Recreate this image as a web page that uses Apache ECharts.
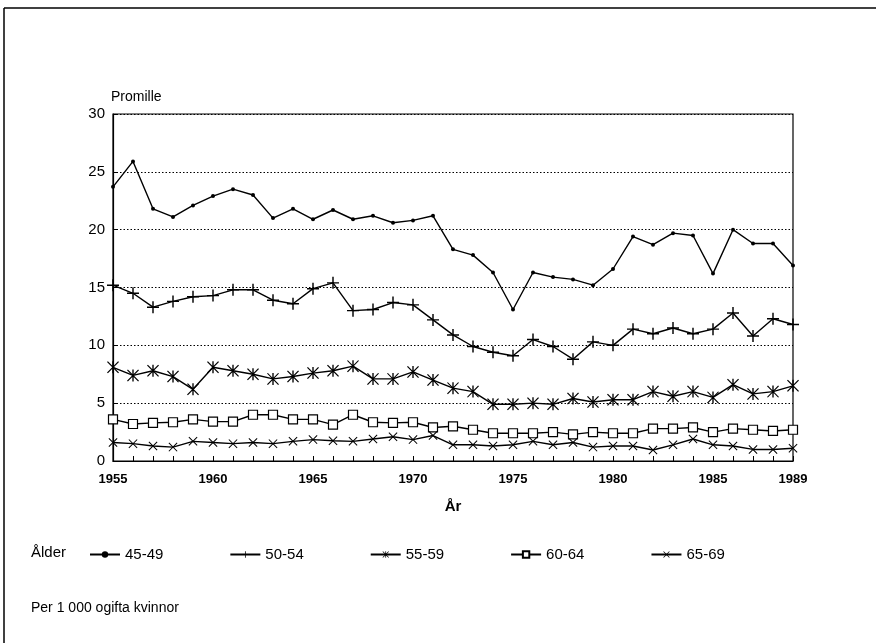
<!DOCTYPE html>
<html>
<head>
<meta charset="utf-8">
<script src="https://cdn.jsdelivr.net/npm/echarts@6/dist/echarts.min.js"></script>
<style>
  html, body { margin: 0; padding: 0; background: #fff; }
  #chart { width: 876px; height: 643px; }
</style>
</head>
<body>
<div id="chart"></div>
<script>
var years = [];
for (var y = 1955; y <= 1989; y++) years.push(y);
var yearLabels = [1955, 1960, 1965, 1970, 1975, 1980, 1985, 1989];
var ageGroups = ['45-49', '50-54', '55-59', '60-64', '65-69'];

// promille per 1 000 ogifta kvinnor, 1955-1989
var age4549 = [23.7, 25.9, 21.8, 21.1, 22.1, 22.9, 23.5, 23.0, 21.0, 21.8, 20.9, 21.7,
               20.9, 21.2, 20.6, 20.8, 21.2, 18.3, 17.8, 16.3, 13.1, 16.3, 15.9, 15.7,
               15.2, 16.6, 19.4, 18.7, 19.7, 19.5, 16.2, 20.0, 18.8, 18.8, 16.9];
var age5054 = [15.2, 14.5, 13.3, 13.8, 14.2, 14.3, 14.8, 14.8, 13.9, 13.6, 14.9, 15.4,
               13.0, 13.1, 13.7, 13.5, 12.2, 10.9, 9.9, 9.4, 9.1, 10.5, 9.9, 8.8,
               10.3, 10.0, 11.4, 11.0, 11.5, 11.0, 11.4, 12.8, 10.8, 12.3, 11.8];
var age5559 = [8.1, 7.4, 7.8, 7.3, 6.2, 8.1, 7.8, 7.5, 7.1, 7.3, 7.6, 7.8,
               8.2, 7.1, 7.1, 7.7, 7.0, 6.3, 6.0, 4.9, 4.9, 5.0, 4.9, 5.4,
               5.1, 5.3, 5.3, 6.0, 5.6, 6.0, 5.5, 6.6, 5.8, 6.0, 6.5];
var age6064 = [3.6, 3.2, 3.3, 3.35, 3.6, 3.4, 3.4, 4.0, 4.0, 3.6, 3.6, 3.15,
               4.0, 3.35, 3.3, 3.35, 2.9, 3.0, 2.7, 2.4, 2.4, 2.4, 2.5, 2.3,
               2.5, 2.4, 2.4, 2.8, 2.8, 2.9, 2.5, 2.8, 2.7, 2.6, 2.7];
var age6569 = [1.6, 1.5, 1.3, 1.2, 1.7, 1.6, 1.5, 1.6, 1.5, 1.7, 1.85, 1.75,
               1.7, 1.9, 2.1, 1.85, 2.2, 1.4, 1.4, 1.3, 1.4, 1.7, 1.4, 1.6,
               1.2, 1.3, 1.3, 0.95, 1.4, 1.9, 1.4, 1.3, 1.0, 1.0, 1.1];

// markörer
var PLUS = 'path://M4.4,0H5.6V10H4.4Z M0,4.4H10V5.6H0Z';
var CROSS = 'path://M0,0.8L0.8,0L10,9.2L9.2,10Z M9.2,0L10,0.8L0.8,10L0,9.2Z';
var STAR = 'path://M4.55,0H5.45V10H4.55Z M1,0.6L1.6,0L9,9.4L8.4,10Z M8.4,0L9,0.6L1.6,10L1,9.4Z';

function pairs(arr) {
  return arr.map(function (v, i) { return [years[i], v]; });
}

function makeSeries(name, data, symbol, size, fill) {
  return {
    name: name,
    type: 'line',
    data: pairs(data),
    symbol: symbol,
    symbolSize: size,
    showAllSymbol: true,
    lineStyle: { color: '#000', width: 1.4 },
    itemStyle: { color: fill || '#000', borderColor: '#000', borderWidth: fill ? 1.2 : 0 },
    emphasis: { disabled: true },
    animation: false
  };
}

var FONT = "'Liberation Sans', Arial, sans-serif";

var chart = echarts.init(document.getElementById('chart'));
var option = {
  backgroundColor: '#fff',
  animation: false,
  textStyle: { fontFamily: FONT, color: '#000' },
  grid: {
    left: 113, right: 83, top: 114, bottom: 182,
    show: true, borderColor: '#000', borderWidth: 1.2, backgroundColor: 'transparent'
  },
  xAxis: {
    type: 'value',
    min: 1955, max: 1989, interval: 1,
    name: 'År',
    nameLocation: 'middle',
    nameGap: 38,
    nameTextStyle: { fontSize: 15, fontWeight: 'bold', color: '#000' },
    axisLine: { lineStyle: { color: '#000', width: 1.2 } },
    axisTick: { inside: true, length: 5, lineStyle: { color: '#000' } },
    splitLine: { show: false },
    axisLabel: {
      color: '#000', fontSize: 13, fontWeight: 'bold', margin: 12,
      showMinLabel: true, showMaxLabel: true,
      formatter: function (v) { return yearLabels.indexOf(v) >= 0 ? String(v) : ''; }
    }
  },
  yAxis: {
    type: 'value',
    min: 0, max: 30, interval: 5,
    name: 'Promille',
    nameLocation: 'end',
    nameGap: 10,
    nameTextStyle: { align: 'left', fontSize: 14, color: '#000', padding: [0, 0, 0, -2] },
    axisLine: { show: true, lineStyle: { color: '#000', width: 1.2 } },
    axisTick: { show: true, inside: true, length: 5, lineStyle: { color: '#000' } },
    splitLine: { show: true, lineStyle: { color: '#000', type: [1.5, 2], width: 1 } },
    axisLabel: { color: '#000', fontSize: 15, margin: 8 }
  },
  legend: {
    left: 84, top: 542,
    itemWidth: 30, itemHeight: 8, itemGap: 66,
    textStyle: { fontSize: 15, color: '#000' },
    data: ageGroups
  },
  graphic: [
    { type: 'line', shape: { x1: 4, y1: 8, x2: 876, y2: 8 }, style: { stroke: '#000', lineWidth: 1.5 } },
    { type: 'line', shape: { x1: 4, y1: 8, x2: 4, y2: 643 }, style: { stroke: '#000', lineWidth: 1.5 } },
    { type: 'text', left: 31, top: 545, style: { text: 'Ålder', font: '15px ' + FONT, fill: '#000' } },
    { type: 'text', left: 31, top: 601, style: { text: 'Per 1 000 ogifta kvinnor', font: '14px ' + FONT, fill: '#000' } }
  ],
  series: [
    makeSeries(ageGroups[0], age4549, 'circle', 4),
    makeSeries(ageGroups[1], age5054, PLUS, 12),
    makeSeries(ageGroups[2], age5559, STAR, 12),
    makeSeries(ageGroups[3], age6064, 'rect', 9, '#fff'),
    makeSeries(ageGroups[4], age6569, CROSS, 9)
  ]
};
chart.setOption(option);
</script>
</body>
</html>
